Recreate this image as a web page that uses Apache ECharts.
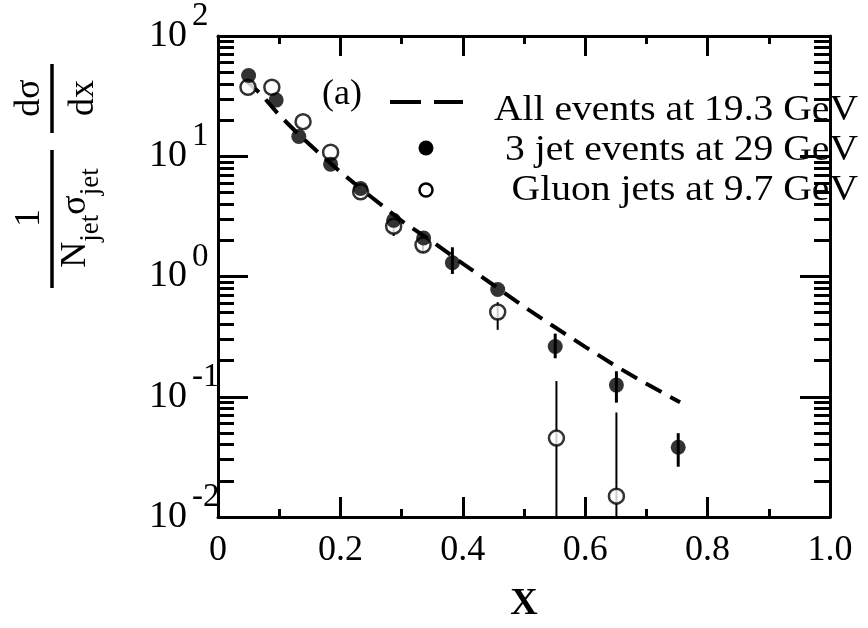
<!DOCTYPE html>
<html><head><meta charset="utf-8">
<script src="https://cdn.jsdelivr.net/npm/echarts@6/dist/echarts.min.js"></script>
<style>html,body{margin:0;padding:0;background:#fff}#c{width:868px;height:628px}</style>
</head><body><div id="c"></div>
<script>
// ---- data ----
const xTickLabels = ['0', '0.2', '0.4', '0.6', '0.8', '1.0'];
const yMajorTicks = [0.01, 0.1, 1, 10, 100];
const yMinorTicks = [0.02,0.03,0.04,0.05,0.06,0.07,0.08,0.09,
                     0.2,0.3,0.4,0.5,0.6,0.7,0.8,0.9,
                     2,3,4,5,6,7,8,9,
                     20,30,40,50,60,70,80,90];

// All events at 19.3 GeV (dashed curve)
const allX = [0.045, 0.07, 0.10, 0.13, 0.16, 0.20, 0.25, 0.30, 0.35, 0.40, 0.45, 0.50, 0.55, 0.60, 0.65, 0.70, 0.755];
const allY = [43, 33, 22, 15.5, 11.2, 7.4, 4.6, 2.9, 1.95, 1.28, 0.85, 0.56, 0.38, 0.26, 0.18, 0.128, 0.09];

// 3 jet events at 29 GeV (filled)
const jet3X = [0.05, 0.095, 0.132, 0.184, 0.233, 0.287, 0.336, 0.383, 0.457, 0.551, 0.651, 0.752];
const jet3Y = [47, 29.3, 14.6, 8.6, 5.4, 2.93, 2.09, 1.30, 0.78, 0.262, 0.125, 0.038];
const jet3ErrX  = [0.383, 0.551, 0.651, 0.752];
const jet3ErrLo = [1.05, 0.209, 0.0893, 0.0262];
const jet3ErrHi = [1.75, 0.335, 0.163, 0.0498];

// Gluon jets at 9.7 GeV (open)
const gluX = [0.049, 0.088, 0.139, 0.184, 0.233, 0.287, 0.335, 0.457, 0.553, 0.651];
const gluY = [37.5, 37.5, 19.4, 10.8, 5.07, 2.62, 1.83, 0.507, 0.0453, 0.0149];
const gluErrX  = [0.287, 0.335, 0.457, 0.553, 0.651];
const gluErrLo = [2.17, 1.57, 0.36, 0.01, 0.01];
const gluErrHi = [2.62, 1.83, 0.612, 0.135, 0.074];

const legendNames = ['All events at 19.3 GeV', '3 jet events at 29 GeV', 'Gluon jets at 9.7 GeV'];

// ---- chart ----
const F = 'Liberation Serif';
const chart = echarts.init(document.getElementById('c'), null, {renderer: 'canvas'});
const blk = '#000';

function errRender(w) {
  return function (params, api) {
    const x = api.value(0), lo = api.value(1), hi = api.value(2);
    const p1 = api.coord([x, lo]), p2 = api.coord([x, hi]);
    return {type: 'line', shape: {x1: p1[0], y1: p1[1], x2: p2[0], y2: p2[1]},
            style: {stroke: blk, lineWidth: w}};
  };
}

function xAx(pos, showLabel) {
  return {
    type: 'value', min: 0, max: 1, interval: 0.2, position: pos,
    axisLine: {onZero: false, lineStyle: {color: blk, width: 3}},
    axisTick: {inside: true, length: 20, lineStyle: {color: blk, width: 3}},
    minorTick: {show: true, splitNumber: 2, length: 8, lineStyle: {color: blk, width: 3}},
    splitLine: {show: false},
    axisLabel: {show: showLabel, fontFamily: F, fontSize: 36, color: blk, margin: 16,
      formatter: v => xTickLabels[Math.round(v / 0.2)]},
    name: showLabel ? 'X' : '', nameLocation: 'middle', nameGap: 68,
    nameTextStyle: {fontFamily: F, fontSize: 38, fontWeight: 'bold', color: blk}
  };
}
function yAx(pos, major) {
  return {
    type: 'log', logBase: 10, min: 0.01, max: 100, position: pos,
    axisLine: {show: major, lineStyle: {color: blk, width: 3}},
    axisTick: {inside: true, length: major ? 30 : 16, customValues: major ? yMajorTicks : yMinorTicks,
               lineStyle: {color: blk, width: 3}},
    minorTick: {show: false},
    splitLine: {show: false},
    axisLabel: {show: major && pos === 'left', customValues: yMajorTicks, align: 'left', margin: 69,
      formatter: v => '{b|10}{e|' + Math.round(Math.log10(v)) + '}',
      rich: {
        b: {fontFamily: F, fontSize: 38, color: blk, lineHeight: 38, verticalAlign: 'bottom'},
        e: {fontFamily: F, fontSize: 33, color: blk, lineHeight: 33, verticalAlign: 'bottom', padding: [0, 0, 22, 5]}
      }}
  };
}

const legendText = (y, t) => ({type: 'text', x: 858, y: y, scaleX: 1.1,
  style: {text: t, fontFamily: F, fontSize: 36, fill: blk, align: 'right', verticalAlign: 'middle'}});

const option = {
  backgroundColor: '#fff',
  animation: false,
  grid: {left: 218, right: 38, top: 30, bottom: 110},
  xAxis: [xAx('bottom', true), xAx('top', false)],
  yAxis: [yAx('left', true), yAx('left', false), yAx('right', true), yAx('right', false)],
  series: [
    {name: legendNames[0], type: 'line', xAxisIndex: 0, yAxisIndex: 0, symbol: 'none', z: 2,
     data: allX.map((x, i) => [x, allY[i]]),
     lineStyle: {color: blk, width: 4, type: [18, 10]}},
    {type: 'custom', xAxisIndex: 0, yAxisIndex: 0, z: 3, renderItem: errRender(2),
     encode: {x: 0, y: [1, 2]},
     data: gluErrX.map((x, i) => [x, gluErrLo[i], gluErrHi[i]])},
    {type: 'custom', xAxisIndex: 0, yAxisIndex: 0, z: 3, renderItem: errRender(3),
     encode: {x: 0, y: [1, 2]},
     data: jet3ErrX.map((x, i) => [x, jet3ErrLo[i], jet3ErrHi[i]])},
    {name: legendNames[2], type: 'scatter', xAxisIndex: 0, yAxisIndex: 0, z: 4, symbol: 'circle', symbolSize: 15,
     itemStyle: {color: '#fff', borderColor: blk, borderWidth: 2.5},
     data: gluX.map((x, i) => [x, gluY[i]])},
    {name: legendNames[1], type: 'scatter', xAxisIndex: 0, yAxisIndex: 0, z: 5, symbol: 'circle', symbolSize: 15,
     itemStyle: {color: blk},
     data: jet3X.map((x, i) => [x, jet3Y[i]])}
  ],
  graphic: [
    // legend
    {type: 'text', x: 342, y: 95, style: {text: '(a)', fontFamily: F, fontSize: 36, fill: blk, align: 'center', verticalAlign: 'middle'}},
    {type: 'line', shape: {x1: 390, y1: 102, x2: 463, y2: 102}, style: {stroke: blk, lineWidth: 4, lineDash: [31, 13]}},
    {type: 'circle', shape: {cx: 426, cy: 148, r: 7.5}, style: {fill: blk}},
    {type: 'circle', shape: {cx: 426, cy: 190, r: 6.5}, style: {fill: '#fff', stroke: blk, lineWidth: 2.5}},
    legendText(111, legendNames[0]),
    legendText(151, legendNames[1]),
    legendText(191, legendNames[2]),
    // y axis title (rotated)
    {type: 'line', shape: {x1: 52, y1: 150, x2: 52, y2: 288}, style: {stroke: blk, lineWidth: 3.5}},
    {type: 'text', x: 30, y: 218, rotation: Math.PI / 2, style: {text: '1', fontFamily: F, fontSize: 36, fill: blk, align: 'center', verticalAlign: 'middle'}},
    {type: 'text', x: 86, y: 218, rotation: Math.PI / 2, style: {
      text: '{n|N}{s|jet}{n|σ}{s|jet}', align: 'center', verticalAlign: 'middle',
      rich: {
        n: {fontFamily: F, fontSize: 36, fill: blk, lineHeight: 36, verticalAlign: 'bottom', padding: [0, 0, 10, 0]},
        s: {fontFamily: F, fontSize: 27, fill: blk, lineHeight: 27, verticalAlign: 'bottom'}
      }}},
    {type: 'line', shape: {x1: 52, y1: 64, x2: 52, y2: 133}, style: {stroke: blk, lineWidth: 3.5}},
    {type: 'text', x: 30, y: 98, rotation: Math.PI / 2, style: {text: 'dσ', fontFamily: F, fontSize: 36, fill: blk, align: 'center', verticalAlign: 'middle'}},
    {type: 'text', x: 84, y: 98, rotation: Math.PI / 2, style: {text: 'dx', fontFamily: F, fontSize: 36, fill: blk, align: 'center', verticalAlign: 'middle'}}
  ]
};
chart.setOption(option);
</script>
</body></html>
